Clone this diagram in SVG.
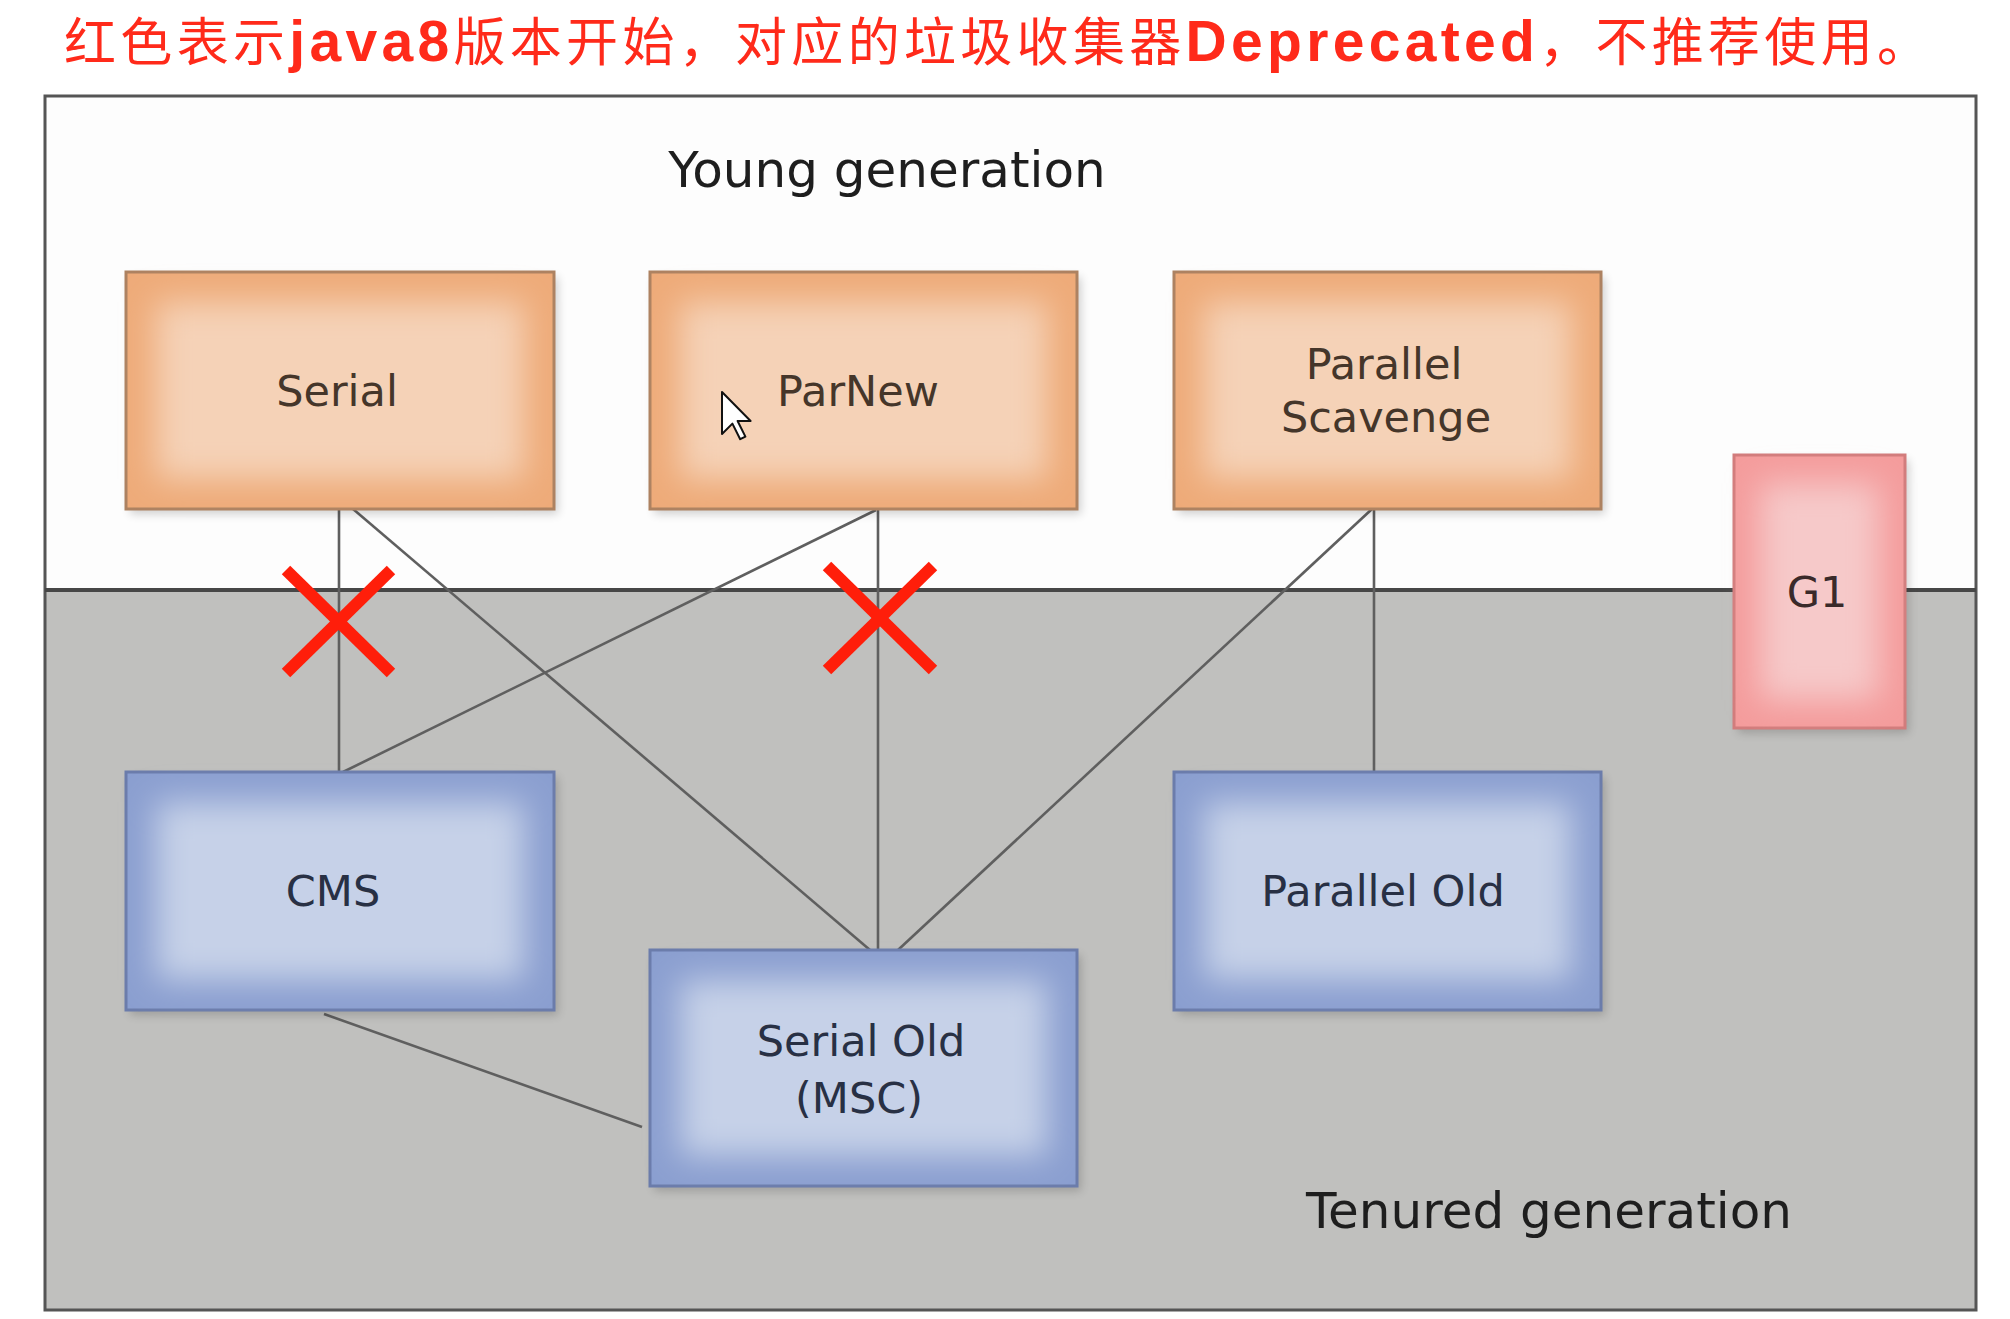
<svg xmlns="http://www.w3.org/2000/svg" width="2010" height="1319" viewBox="0 0 2010 1319">
  <defs>
    <filter id="soft" x="-40%" y="-40%" width="180%" height="180%">
      <feGaussianBlur stdDeviation="16"/>
    </filter>
    <filter id="shadow" x="-20%" y="-20%" width="140%" height="140%">
      <feGaussianBlur stdDeviation="5"/>
    </filter>
    <style>
      .title { font-size: 52px; fill: #ff2a1a; }
      .cjk { font-family: "Noto Sans CJK SC", sans-serif; font-weight: 400; }
      .lat { font-family: "Liberation Sans", Arial, sans-serif; font-weight: 700; font-size: 57px; }
      .gen { font-family: "DejaVu Sans", "Liberation Sans", sans-serif; font-size: 50px; fill: #1e1e1e; text-anchor: middle; }
      .lbl { font-family: "DejaVu Sans", "Liberation Sans", sans-serif; font-size: 43px; text-anchor: middle; }
      .young .lbl { fill: #45362a; }
      .old .lbl { fill: #283044; }
      .g1 .lbl { fill: #3a2a2a; }
      .shd { fill: #000; opacity: 0.18; filter: url(#shadow); }
      .young .edge { fill: #eeab79; stroke: #ad8261; stroke-width: 3; }
      .young .core { fill: #f5d2b7; filter: url(#soft); }
      .old .edge { fill: #8b9fd0; stroke: #6b7cab; stroke-width: 3; }
      .old .core { fill: #c6d1e8; filter: url(#soft); }
      .g1 .edge { fill: #f49c9c; stroke: #d27c7c; stroke-width: 3; }
      .g1 .core { fill: #f6c9c9; filter: url(#soft); }
      .conn line { stroke: #5f5f5f; stroke-width: 2.6; }
      .cross line { stroke: #ff1e0a; stroke-width: 12; }
    </style>
  </defs>

  <rect width="2010" height="1319" fill="#ffffff"/>

  <!-- title -->
  <text class="title" x="64" y="61" textLength="1865" lengthAdjust="spacing"><tspan class="cjk">红色表示</tspan><tspan class="lat">java8</tspan><tspan class="cjk">版本开始，对应的垃圾收集器</tspan><tspan class="lat">Deprecated</tspan><tspan class="cjk">，不推荐使用。</tspan></text>

  <!-- frame and regions -->
  <g id="frame">
    <rect x="45" y="96" width="1931" height="494" fill="#fdfdfd"/>
    <rect x="45" y="590" width="1931" height="720" fill="#c0c0be"/>
    <rect x="45" y="96" width="1931" height="1214" fill="none" stroke="#555555" stroke-width="3"/>
    <line x1="45" y1="590" x2="1976" y2="590" stroke="#474747" stroke-width="4"/>
    <text class="gen" x="887" y="187">Young generation</text>
    <text class="gen" x="1549" y="1228">Tenured generation</text>
  </g>

  <!-- connectors -->
  <g id="connectors" class="conn">
    <line x1="339" y1="509" x2="339" y2="772"/>
    <line x1="346" y1="503" x2="870" y2="950"/>
    <line x1="878" y1="509" x2="878" y2="950"/>
    <line x1="876" y1="510" x2="343" y2="772"/>
    <line x1="1372" y1="509" x2="898" y2="950"/>
    <line x1="1374" y1="509" x2="1374" y2="772"/>
    <line x1="324" y1="1014" x2="642" y2="1127"/>
  </g>

  <!-- young generation collectors -->
  <g id="serial" class="young">
    <rect class="shd" x="130" y="277" width="428" height="237"/>
    <rect class="edge" x="126" y="272" width="428" height="237"/>
    <rect class="core" x="156" y="302" width="368" height="177"/>
    <text class="lbl" x="337" y="406">Serial</text>
  </g>
  <g id="parnew" class="young">
    <rect class="shd" x="654" y="277" width="427" height="237"/>
    <rect class="edge" x="650" y="272" width="427" height="237"/>
    <rect class="core" x="680" y="302" width="367" height="177"/>
    <text class="lbl" x="858" y="406">ParNew</text>
  </g>
  <g id="parallel-scavenge" class="young">
    <rect class="shd" x="1178" y="277" width="427" height="237"/>
    <rect class="edge" x="1174" y="272" width="427" height="237"/>
    <rect class="core" x="1204" y="302" width="367" height="177"/>
    <text class="lbl" x="1384" y="379">Parallel</text>
    <text class="lbl" x="1386" y="432">Scavenge</text>
  </g>

  <!-- G1 -->
  <g id="g1" class="g1">
    <rect class="shd" x="1738" y="460" width="171" height="273"/>
    <rect class="edge" x="1734" y="455" width="171" height="273"/>
    <rect class="core" x="1760" y="483" width="119" height="217"/>
    <text class="lbl" x="1817" y="607">G1</text>
  </g>

  <!-- tenured generation collectors -->
  <g id="cms" class="old">
    <rect class="shd" x="130" y="777" width="428" height="238"/>
    <rect class="edge" x="126" y="772" width="428" height="238"/>
    <rect class="core" x="156" y="802" width="368" height="178"/>
    <text class="lbl" x="333" y="906">CMS</text>
  </g>
  <g id="serial-old" class="old">
    <rect class="shd" x="654" y="955" width="427" height="236"/>
    <rect class="edge" x="650" y="950" width="427" height="236"/>
    <rect class="core" x="680" y="980" width="367" height="176"/>
    <text class="lbl" x="861" y="1056">Serial Old</text>
    <text class="lbl" x="859" y="1113">(MSC)</text>
  </g>
  <g id="parallel-old" class="old">
    <rect class="shd" x="1178" y="777" width="427" height="238"/>
    <rect class="edge" x="1174" y="772" width="427" height="238"/>
    <rect class="core" x="1204" y="802" width="367" height="178"/>
    <text class="lbl" x="1383" y="906">Parallel Old</text>
  </g>

  <!-- red crosses -->
  <g id="crosses" class="cross">
    <line x1="286" y1="570" x2="391" y2="673"/>
    <line x1="391" y1="570" x2="286" y2="673"/>
    <line x1="827" y1="566" x2="933" y2="670"/>
    <line x1="933" y1="566" x2="827" y2="670"/>
  </g>

  <!-- mouse cursor -->
  <polygon points="722,392 722,434 732.4,423.6 740.2,439.2 745.4,436.6 737.6,421 750.6,421" fill="#ffffff" stroke="#111111" stroke-width="2" stroke-linejoin="round"/>
</svg>
